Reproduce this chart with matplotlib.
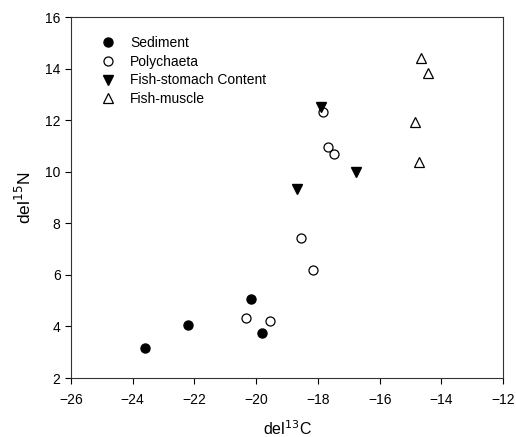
import matplotlib
matplotlib.use('Agg')
import matplotlib.pyplot as plt

plt.rcParams['font.family'] = ['Liberation Sans', 'DejaVu Sans']

# del13C, del15N values per group
sed_c = [-23.6, -22.2, -20.17, -19.8]
sed_n = [3.17, 4.07, 5.07, 3.76]
poly_c = [-17.85, -17.66, -17.47, -18.54, -18.15, -20.32, -19.54]
poly_n = [12.3, 10.97, 10.69, 7.43, 6.18, 4.33, 4.23]
stom_c = [-17.9, -18.67, -16.76]
stom_n = [12.5, 9.33, 10.0]
musc_c = [-14.66, -14.42, -14.87, -14.74]
musc_n = [14.41, 13.82, 11.94, 10.37]

fig = plt.figure(figsize=(5.16, 4.37), dpi=100)
ax = fig.add_axes([0.1376, 0.135, 0.8374, 0.826])

ms = 6.5
ax.plot(sed_c, sed_n, 'o', ms=ms, mfc='black', mec='black', label='Sediment')
ax.plot(poly_c, poly_n, 'o', ms=ms, mfc='white', mec='black', mew=0.9, label='Polychaeta')
ax.plot(stom_c, stom_n, 'v', ms=ms + 0.5, mfc='black', mec='black', label='Fish-stomach Content')
ax.plot(musc_c, musc_n, '^', ms=ms + 0.5, mfc='white', mec='black', mew=0.9, label='Fish-muscle')

ax.set_xlim(-26, -12)
ax.set_ylim(2, 16)
ax.set_xticks(range(-26, -11, 2))
ax.set_yticks(range(2, 17, 2))
ax.tick_params(direction='out', length=4.5, width=0.8, labelsize=10, pad=3,
               top=False, right=False)
ax.tick_params(axis='x', pad=6)
for s in ax.spines.values():
    s.set_linewidth(0.8)
    s.set_color('#333333')

ax.set_xlabel('del$^{13}$C', fontsize=11.5, labelpad=9)
ax.set_ylabel('del$^{15}$N', fontsize=12.5, labelpad=8)

ax.legend(loc='upper left', frameon=False, fontsize=10, handletextpad=1.1,
          labelspacing=0.33, borderaxespad=1.3, handlelength=1.0,
          bbox_to_anchor=(0.015, 1.012))

fig.savefig('out.png', dpi=100)
